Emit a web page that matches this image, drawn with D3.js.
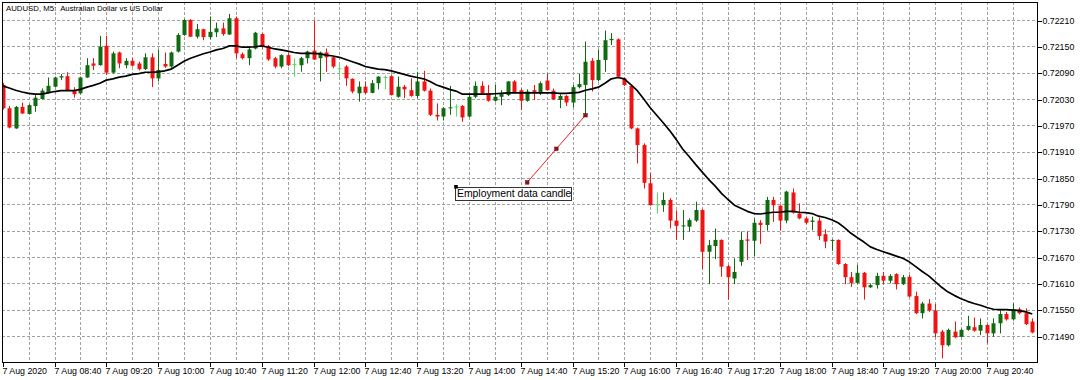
<!DOCTYPE html>
<html>
<head>
<meta charset="utf-8">
<script src="https://cdn.jsdelivr.net/npm/d3@7"></script>
<style>
html, body { margin: 0; padding: 0; background: #fff; }
svg { display: block; font-family: "Liberation Sans", Arial, sans-serif; }
</style>
</head>
<body>
<div id="svgcontainer"></div>
<script>
// --- --- Data (AUDUSD M5, 7 Aug 2020) --- ---

var title = "AUDUSD, M5:  Australian Dollar vs US Dollar";

var opens = [0.72062,0.72009,0.71963,0.72012,0.71996,0.72014,0.72030,0.72044,0.72058,0.72079,
  0.72082,0.72050,0.72043,0.72079,0.72111,0.72107,0.72151,0.72090,0.72136,0.72107,
  0.72117,0.72111,0.72098,0.72125,0.72077,0.72110,0.72104,0.72138,0.72176,0.72210,
  0.72172,0.72189,0.72171,0.72182,0.72191,0.72177,0.72214,0.72132,0.72123,0.72145,
  0.72178,0.72151,0.72123,0.72104,0.72130,0.72110,0.72107,0.72123,0.72140,0.72123,
  0.72136,0.72125,0.72100,0.72104,0.72076,0.72043,0.72058,0.72044,0.72066,0.72080,
  0.72082,0.72035,0.72058,0.72050,0.72037,0.72070,0.72049,0.71994,0.71990,0.72009,
  0.72013,0.72014,0.71990,0.72035,0.72060,0.72043,0.72026,0.72035,0.72039,0.72070,
  0.72050,0.72026,0.72050,0.72043,0.72072,0.72049,0.72028,0.72037,0.72022,0.72057,
  0.72062,0.72117,0.72073,0.72119,0.72164,0.72166,0.72077,0.72060,0.71963,0.71925,
  0.71838,0.71790,0.71788,0.71800,0.71753,0.71741,0.71739,0.71753,0.71777,0.71682,
  0.71695,0.71709,0.71649,0.71621,0.71659,0.71710,0.71707,0.71748,0.71743,0.71800,
  0.71787,0.71753,0.71817,0.71769,0.71758,0.71750,0.71753,0.71722,0.71707,0.71709,
  0.71654,0.71624,0.71611,0.71634,0.71601,0.71606,0.71627,0.71616,0.71631,0.71608,
  0.71625,0.71581,0.71542,0.71564,0.71548,0.71500,0.71469,0.71500,0.71488,0.71504,
  0.71510,0.71502,0.71515,0.71496,0.71519,0.71540,0.71528,0.71551,0.71542,0.71523];

var highs = [0.72067,0.72014,0.72014,0.72022,0.72018,0.72039,0.72054,0.72079,0.72081,0.72087,
  0.72091,0.72057,0.72081,0.72123,0.72123,0.72174,0.72174,0.72138,0.72138,0.72123,
  0.72123,0.72115,0.72134,0.72134,0.72142,0.72136,0.72138,0.72180,0.72212,0.72212,
  0.72201,0.72190,0.72218,0.72204,0.72204,0.72224,0.72218,0.72136,0.72149,0.72183,
  0.72180,0.72153,0.72126,0.72132,0.72134,0.72123,0.72126,0.72140,0.72209,0.72138,
  0.72145,0.72128,0.72111,0.72107,0.72077,0.72070,0.72070,0.72073,0.72082,0.72084,
  0.72084,0.72081,0.72062,0.72077,0.72092,0.72094,0.72054,0.72020,0.72012,0.72060,
  0.72018,0.72016,0.72039,0.72070,0.72070,0.72062,0.72062,0.72050,0.72071,0.72073,
  0.72054,0.72052,0.72062,0.72070,0.72088,0.72054,0.72041,0.72039,0.72062,0.72087,
  0.72161,0.72123,0.72142,0.72186,0.72180,0.72168,0.72079,0.72062,0.71965,0.71929,
  0.71861,0.71817,0.71817,0.71804,0.71776,0.71777,0.71758,0.71796,0.71779,0.71709,
  0.71735,0.71710,0.71652,0.71667,0.71728,0.71728,0.71758,0.71754,0.71807,0.71807,
  0.71788,0.71821,0.71826,0.71792,0.71762,0.71762,0.71760,0.71733,0.71710,0.71710,
  0.71656,0.71636,0.71652,0.71636,0.71610,0.71634,0.71636,0.71631,0.71633,0.71629,
  0.71629,0.71591,0.71568,0.71574,0.71563,0.71504,0.71507,0.71523,0.71507,0.71536,
  0.71532,0.71530,0.71517,0.71530,0.71549,0.71545,0.71564,0.71555,0.71553,0.71530];

var lows = [0.72006,0.71963,0.71962,0.71996,0.71995,0.72001,0.72029,0.72043,0.72057,0.72073,
  0.72049,0.72033,0.72041,0.72078,0.72096,0.72106,0.72085,0.72088,0.72100,0.72100,
  0.72104,0.72095,0.72096,0.72057,0.72070,0.72101,0.72101,0.72136,0.72174,0.72171,
  0.72168,0.72164,0.72166,0.72171,0.72174,0.72176,0.72123,0.72120,0.72107,0.72143,
  0.72145,0.72117,0.72100,0.72100,0.72105,0.72081,0.72092,0.72111,0.72119,0.72070,
  0.72092,0.72100,0.72081,0.72060,0.72043,0.72024,0.72041,0.72043,0.72052,0.72052,
  0.72038,0.72033,0.72032,0.72035,0.72032,0.72047,0.71991,0.71981,0.71981,0.71994,
  0.71990,0.71978,0.71988,0.72032,0.72041,0.72024,0.72024,0.72016,0.72037,0.72043,
  0.72005,0.72024,0.72028,0.72039,0.72049,0.72028,0.72009,0.72014,0.72011,0.72054,
  0.71994,0.72047,0.72070,0.72092,0.72153,0.72079,0.72060,0.71961,0.71883,0.71826,
  0.71787,0.71769,0.71773,0.71735,0.71709,0.71709,0.71728,0.71750,0.71642,0.71608,
  0.71665,0.71625,0.71573,0.71608,0.71650,0.71663,0.71671,0.71700,0.71730,0.71750,
  0.71730,0.71747,0.71769,0.71756,0.71745,0.71731,0.71709,0.71690,0.71684,0.71652,
  0.71608,0.71602,0.71608,0.71573,0.71599,0.71598,0.71608,0.71610,0.71596,0.71606,
  0.71578,0.71540,0.71530,0.71545,0.71487,0.71439,0.71466,0.71485,0.71487,0.71502,
  0.71500,0.71492,0.71473,0.71488,0.71496,0.71525,0.71525,0.71539,0.71515,0.71496];

var closes = [0.72009,0.71965,0.72012,0.71997,0.72016,0.72033,0.72049,0.72060,0.72079,0.72082,
  0.72050,0.72041,0.72079,0.72107,0.72106,0.72149,0.72090,0.72134,0.72111,0.72117,
  0.72106,0.72098,0.72125,0.72077,0.72096,0.72104,0.72136,0.72176,0.72210,0.72172,
  0.72189,0.72171,0.72183,0.72191,0.72178,0.72214,0.72134,0.72123,0.72143,0.72181,
  0.72149,0.72120,0.72104,0.72130,0.72107,0.72110,0.72123,0.72138,0.72120,0.72136,
  0.72125,0.72104,0.72100,0.72077,0.72047,0.72058,0.72044,0.72066,0.72081,0.72080,
  0.72039,0.72058,0.72052,0.72037,0.72070,0.72049,0.71994,0.71990,0.72009,0.72011,
  0.72013,0.71988,0.72035,0.72060,0.72043,0.72026,0.72035,0.72041,0.72070,0.72044,
  0.72026,0.72047,0.72046,0.72066,0.72050,0.72029,0.72037,0.72022,0.72057,0.72064,
  0.72115,0.72073,0.72119,0.72164,0.72167,0.72081,0.72062,0.71963,0.71925,0.71839,
  0.71788,0.71790,0.71800,0.71753,0.71741,0.71742,0.71754,0.71777,0.71682,0.71697,
  0.71709,0.71648,0.71624,0.71636,0.71709,0.71707,0.71748,0.71743,0.71800,0.71788,
  0.71753,0.71819,0.71771,0.71758,0.71748,0.71753,0.71718,0.71705,0.71709,0.71654,
  0.71624,0.71611,0.71634,0.71601,0.71606,0.71627,0.71616,0.71627,0.71608,0.71624,
  0.71580,0.71542,0.71564,0.71548,0.71496,0.71469,0.71504,0.71487,0.71504,0.71513,
  0.71502,0.71515,0.71496,0.71519,0.71540,0.71528,0.71551,0.71542,0.71517,0.71498];

// Moving average as drawn on the chart
var movingAverage = [0.72060,0.72055,0.72050,0.72046,0.72043,0.72041,0.72041,0.72044,0.72047,0.72049,
  0.72049,0.72049,0.72052,0.72057,0.72061,0.72066,0.72073,0.72076,0.72080,0.72082,
  0.72086,0.72088,0.72091,0.72091,0.72092,0.72094,0.72098,0.72107,0.72116,0.72123,
  0.72128,0.72133,0.72137,0.72142,0.72145,0.72151,0.72151,0.72148,0.72148,0.72149,
  0.72151,0.72148,0.72144,0.72142,0.72139,0.72136,0.72134,0.72134,0.72134,0.72133,
  0.72130,0.72128,0.72125,0.72120,0.72115,0.72110,0.72104,0.72101,0.72098,0.72097,
  0.72094,0.72090,0.72086,0.72082,0.72079,0.72076,0.72070,0.72062,0.72057,0.72052,
  0.72048,0.72041,0.72041,0.72041,0.72041,0.72041,0.72042,0.72043,0.72044,0.72044,
  0.72044,0.72044,0.72044,0.72044,0.72044,0.72044,0.72043,0.72043,0.72044,0.72045,
  0.72050,0.72053,0.72057,0.72066,0.72076,0.72079,0.72076,0.72063,0.72049,0.72030,
  0.72010,0.71993,0.71976,0.71958,0.71938,0.71916,0.71899,0.71881,0.71864,0.71847,
  0.71832,0.71815,0.71801,0.71788,0.71781,0.71774,0.71769,0.71768,0.71770,0.71772,
  0.71772,0.71774,0.71774,0.71772,0.71771,0.71769,0.71763,0.71760,0.71755,0.71748,
  0.71737,0.71724,0.71714,0.71704,0.71693,0.71687,0.71682,0.71677,0.71672,0.71667,
  0.71659,0.71648,0.71637,0.71627,0.71614,0.71601,0.71590,0.71582,0.71575,0.71569,
  0.71564,0.71560,0.71555,0.71551,0.71550,0.71550,0.71549,0.71548,0.71545,0.71540];

// Price axis labels
var priceTicks = [0.72210,0.72150,0.72090,0.72030,0.71970,0.71910,0.71850,
  0.71790,0.71730,0.71670,0.71610,0.71550,0.71490];

// Time axis labels (bar index of each label)
var timeTickBars = [0,8,16,24,32,40,48,56,64,72,80,88,96,104,112,120,128,136,144,152];
var timeTickLabels = ["7 Aug 2020","7 Aug 08:40","7 Aug 09:20","7 Aug 10:00","7 Aug 10:40",
  "7 Aug 11:20","7 Aug 12:00","7 Aug 12:40","7 Aug 13:20","7 Aug 14:00","7 Aug 14:40",
  "7 Aug 15:20","7 Aug 16:00","7 Aug 16:40","7 Aug 17:20","7 Aug 18:00","7 Aug 18:40",
  "7 Aug 19:20","7 Aug 20:00","7 Aug 20:40"];

// Annotation: trend line (bar, price) and text label
var trendBars = [81, 90];
var trendPrices = [0.71840, 0.71993];
var noteBar = 70;
var notePrice = 0.71830;
var noteText = "Employment data candle";

// --- --- Layout --- ---

var width = 1080;
var height = 380;
var plot = ({top: 2, right: 1037, bottom: 362, left: 2});

var bull_color = "#0f6a10";
var bear_color = "#ee1414";
var doji_color = "#5fd85f";
var grid_color = "#a2a2a2";

var x = d3.scaleLinear().domain([0, closes.length - 1]).range([2.7, 1032.3]);
var y = d3.scaleLinear().domain([0.71490, 0.72210]).range([336, 20]);

const svg = d3.select("#svgcontainer").append("svg")
  .attr("width", width).attr("height", height).attr("viewBox", [0, 0, width, height]);

svg.append("rect").attr("width", width).attr("height", height).attr("fill", "#fff");

svg.append("defs").append("clipPath").attr("id", "plotclip").append("rect")
  .attr("x", plot.left).attr("y", plot.top)
  .attr("width", plot.right - plot.left).attr("height", plot.bottom - plot.top);

// --- Grid ---
var grid = svg.append("g")
  .attr("stroke", grid_color).attr("stroke-width", 1)
  .attr("stroke-dasharray", "3,2").attr("shape-rendering", "crispEdges");

grid.selectAll(".hgrid").data(priceTicks).enter().append("line")
  .attr("x1", plot.left).attr("x2", plot.right)
  .attr("y1", d => Math.round(y(d)) + 0.5).attr("y2", d => Math.round(y(d)) + 0.5);

var gridBars = d3.range(4, closes.length, 4);
grid.selectAll(".vgrid").data(gridBars).enter().append("line")
  .attr("x1", d => Math.round(x(d)) + 0.5).attr("x2", d => Math.round(x(d)) + 0.5)
  .attr("y1", plot.top).attr("y2", plot.bottom);

// --- Candles ---
var candles = svg.append("g").attr("clip-path", "url(#plotclip)");

function candleColor(i){
  if (opens[i] === closes[i]) { return doji_color; }
  return closes[i] > opens[i] ? bull_color : bear_color;
}

var idx = d3.range(closes.length);

candles.selectAll(".wick").data(idx).enter().append("line")
  .attr("x1", i => Math.round(x(i)) + 0.5).attr("x2", i => Math.round(x(i)) + 0.5)
  .attr("y1", i => y(highs[i])).attr("y2", i => y(lows[i]))
  .attr("stroke", candleColor).attr("stroke-width", 1);

candles.selectAll(".body").data(idx).enter().append("rect")
  .attr("x", i => Math.round(x(i)) - 1.5)
  .attr("width", 4)
  .attr("y", i => y(Math.max(opens[i], closes[i])))
  .attr("height", i => Math.max(1, Math.abs(y(opens[i]) - y(closes[i]))))
  .attr("fill", candleColor);

// --- Moving average ---
var maLine = d3.line().x((d, i) => x(i)).y(d => y(d));
candles.append("path").datum(movingAverage)
  .attr("d", maLine).attr("fill", "none")
  .attr("stroke", "#000").attr("stroke-width", 1.7).attr("stroke-linejoin", "round");

// --- Frame ---
svg.append("rect")
  .attr("x", plot.left + 0.5).attr("y", plot.top + 0.5)
  .attr("width", plot.right - plot.left).attr("height", plot.bottom - plot.top)
  .attr("fill", "none").attr("stroke", "#000").attr("shape-rendering", "crispEdges");

// --- Axes ---
var yAxis = d3.axisRight(y).tickValues(priceTicks)
  .tickFormat(d3.format(".5f")).tickSize(4).tickPadding(1);
var gy = svg.append("g").attr("transform", "translate(" + (plot.right + 0.5) + ",0.5)").call(yAxis);
gy.select(".domain").remove();
gy.selectAll("line").attr("shape-rendering", "crispEdges");
gy.selectAll("text").attr("font-family", "Liberation Sans, Arial, sans-serif")
  .attr("font-size", "8.8px").attr("fill", "#000");

var xAxis = d3.axisBottom(x).tickValues(timeTickBars)
  .tickFormat((d, i) => timeTickLabels[i]).tickSize(4).tickPadding(1.5);
var gx = svg.append("g").attr("transform", "translate(0," + (plot.bottom + 0.5) + ")").call(xAxis);
gx.select(".domain").remove();
gx.selectAll(".tick").attr("transform", d => "translate(" + (Math.round(x(d)) + 0.5) + ",0)");
gx.selectAll("line").attr("shape-rendering", "crispEdges");
gx.selectAll("text").attr("text-anchor", "start").attr("x", -1)
  .attr("font-family", "Liberation Sans, Arial, sans-serif")
  .attr("font-size", "8.8px").attr("fill", "#000");

// --- Title ---
svg.append("text").attr("x", 6).attr("y", 10.5)
  .attr("font-size", "7.8px").attr("fill", "#000")
  .style("white-space", "pre").text(title);

// --- Annotation ---
var note = svg.append("g");
var tx = trendBars.map(b => x(b));
var ty = trendPrices.map(p => y(p));
note.append("line")
  .attr("x1", tx[0]).attr("y1", ty[0]).attr("x2", tx[1]).attr("y2", ty[1])
  .attr("stroke", "#e8202a").attr("stroke-width", 1);
var handles = [[tx[0], ty[0]], [(tx[0] + tx[1]) / 2, (ty[0] + ty[1]) / 2], [tx[1], ty[1]]];
note.selectAll(".handle").data(handles).enter().append("rect")
  .attr("x", d => d[0] - 1.8).attr("y", d => d[1] - 1.8)
  .attr("width", 3.6).attr("height", 3.6)
  .attr("fill", "#9a0f1c").attr("stroke", "#6a0a12").attr("stroke-width", 0.5);

var nx = x(noteBar);
var ny = y(notePrice);
var label = note.append("text").attr("x", nx + 1).attr("y", ny + 10)
  .attr("font-size", "10.4px").attr("fill", "#000").text(noteText);
var tw = label.node().getComputedTextLength();
note.insert("rect", "text")
  .attr("x", Math.round(nx) - 0.5).attr("y", Math.round(ny) + 0.5)
  .attr("width", Math.round(tw) + 2).attr("height", 12.5)
  .attr("fill", "#fff").attr("stroke", "#333").attr("shape-rendering", "crispEdges");
note.append("rect").attr("x", nx - 1.8).attr("y", ny - 1.8)
  .attr("width", 3.6).attr("height", 3.6).attr("fill", "#000");
</script>
</body>
</html>
